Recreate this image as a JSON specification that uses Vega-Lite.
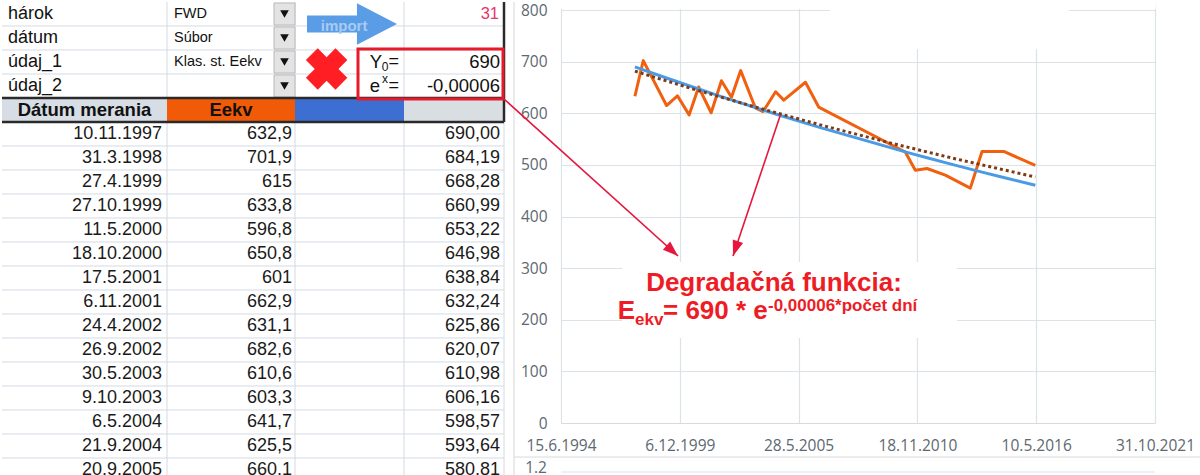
{
"$schema":"https://vega.github.io/schema/vega-lite/v6.json",
"background":"white",
"padding":0,
"spacing":49,
"bounds":"flush",
"config":{"view":{"stroke":null},"font":"Liberation Sans"},
"datasets":{
"top":[{"row":0,"label":"hárok","dd":"FWD"},{"row":1,"label":"dátum","dd":"Súbor"},{"row":2,"label":"údaj_1","dd":"Klas. st. Eekv"},{"row":3,"label":"údaj_2","dd":""}],
"tbl":[
{"row":5,"date":"10.11.1997","eekv":"632,9","fit":"690,00"},
{"row":6,"date":"31.3.1998","eekv":"701,9","fit":"684,19"},
{"row":7,"date":"27.4.1999","eekv":"615","fit":"668,28"},
{"row":8,"date":"27.10.1999","eekv":"633,8","fit":"660,99"},
{"row":9,"date":"11.5.2000","eekv":"596,8","fit":"653,22"},
{"row":10,"date":"18.10.2000","eekv":"650,8","fit":"646,98"},
{"row":11,"date":"17.5.2001","eekv":"601","fit":"638,84"},
{"row":12,"date":"6.11.2001","eekv":"662,9","fit":"632,24"},
{"row":13,"date":"24.4.2002","eekv":"631,1","fit":"625,86"},
{"row":14,"date":"26.9.2002","eekv":"682,6","fit":"620,07"},
{"row":15,"date":"30.5.2003","eekv":"610,6","fit":"610,98"},
{"row":16,"date":"9.10.2003","eekv":"603,3","fit":"606,16"},
{"row":17,"date":"6.5.2004","eekv":"641,7","fit":"598,57"},
{"row":18,"date":"21.9.2004","eekv":"625,5","fit":"593,64"},
{"row":19,"date":"20.9.2005","eekv":"660,1","fit":"580,81"}],
"lines":[
{"k":"l","col":0,"col2":4,"row":0.5,"row2":0.5},{"k":"l","col":0,"col2":4,"row":1.5,"row2":1.5},{"k":"l","col":0,"col2":4,"row":2.5,"row2":2.5},
{"k":"l","col":0,"col2":4,"row":5.5,"row2":5.5},{"k":"l","col":0,"col2":4,"row":6.5,"row2":6.5},{"k":"l","col":0,"col2":4,"row":7.5,"row2":7.5},
{"k":"l","col":0,"col2":4,"row":8.5,"row2":8.5},{"k":"l","col":0,"col2":4,"row":9.5,"row2":9.5},{"k":"l","col":0,"col2":4,"row":10.5,"row2":10.5},
{"k":"l","col":0,"col2":4,"row":11.5,"row2":11.5},{"k":"l","col":0,"col2":4,"row":12.5,"row2":12.5},{"k":"l","col":0,"col2":4,"row":13.5,"row2":13.5},
{"k":"l","col":0,"col2":4,"row":14.5,"row2":14.5},{"k":"l","col":0,"col2":4,"row":15.5,"row2":15.5},{"k":"l","col":0,"col2":4,"row":16.5,"row2":16.5},
{"k":"l","col":0,"col2":4,"row":17.5,"row2":17.5},{"k":"l","col":0,"col2":4,"row":18.5,"row2":18.5},
{"k":"l","col":1,"col2":1,"row":-0.5,"row2":19.3},{"k":"l","col":2,"col2":2,"row":-0.5,"row2":19.3},{"k":"l","col":3,"col2":3,"row":-0.5,"row2":19.3},{"k":"l","col":4,"col2":4,"row":-0.5,"row2":19.3},
{"k":"d","col":0,"col2":4,"row":3.5,"row2":3.5},{"k":"d","col":0,"col2":4,"row":4.5,"row2":4.5},{"k":"d","col":4,"col2":4,"row":-0.5,"row2":4.5},
{"k":"g","col":4.1,"col2":4.1,"row":-0.5,"row2":19.3}],
"cells":[
{"p":"hA","col":0,"col2":1,"row":3.5,"row2":4.5},{"p":"hB","col":1,"col2":2,"row":3.5,"row2":4.5},{"p":"hC","col":2,"col2":3,"row":3.5,"row2":4.5},{"p":"hD","col":3,"col2":4,"row":3.5,"row2":4.5},
{"p":"btn","col":1.836,"col2":2,"row":-0.46,"row2":0.46},{"p":"btn","col":1.836,"col2":2,"row":0.54,"row2":1.46},{"p":"btn","col":1.836,"col2":2,"row":1.54,"row2":2.46},{"p":"btn","col":1.836,"col2":2,"row":2.54,"row2":3.46},
{"p":"box","col":2.578,"col2":3.99,"row":1.46,"row2":3.54}],
"icons":[{"p":"arrow","col":2.523,"row":0.417},{"p":"x","col":2.29,"row":2.29},{"p":"imp","col":2.45,"row":0.5,"t":"import"}],
"hdr":[{"col":0.5,"row":4,"t":"Dátum merania"},{"col":1.5,"row":4,"t":"Eekv"}],
"params":[{"k":"n","col":4,"row":0,"t":"31"},{"k":"v","col":4,"row":2,"t":"690"},{"k":"v","col":4,"row":3,"t":"-0,00006"}],
"sym":[{"k":"Y","col":3,"row":2,"t":"Y"},{"k":"sub","col":3,"row":2,"t":"0"},{"k":"eq","col":3,"row":2,"t":"="},{"k":"e","col":3,"row":3,"t":"e"},{"k":"sup","col":3,"row":3,"t":"x"},{"k":"eq","col":3,"row":3,"t":"="}],
"series":[
{"s":"Eekv","date":"1997-11-10","v":632.9},{"s":"Eekv","date":"1998-03-31","v":701.9},{"s":"Eekv","date":"1999-04-27","v":615},{"s":"Eekv","date":"1999-10-27","v":633.8},
{"s":"Eekv","date":"2000-05-11","v":596.8},{"s":"Eekv","date":"2000-10-18","v":650.8},{"s":"Eekv","date":"2001-05-17","v":601},{"s":"Eekv","date":"2001-11-06","v":662.9},
{"s":"Eekv","date":"2002-04-24","v":631.1},{"s":"Eekv","date":"2002-09-26","v":682.6},{"s":"Eekv","date":"2003-05-30","v":610.6},{"s":"Eekv","date":"2003-10-09","v":603.3},
{"s":"Eekv","date":"2004-05-06","v":641.7},{"s":"Eekv","date":"2004-09-21","v":625.5},{"s":"Eekv","date":"2005-09-20","v":660.1},{"s":"Eekv","date":"2006-05-01","v":612},
{"s":"Eekv","date":"2010-04-28","v":525},{"s":"Eekv","date":"2010-10-14","v":489.5},{"s":"Eekv","date":"2011-04-29","v":493},{"s":"Eekv","date":"2012-03-02","v":480},
{"s":"Eekv","date":"2013-04-27","v":455},{"s":"Eekv","date":"2013-11-10","v":526},{"s":"Eekv","date":"2014-11-10","v":526},{"s":"Eekv","date":"2016-04-25","v":499},
{"s":"fit","date":"1997-11-10","v":690.0},{"s":"fit","date":"1998-03-31","v":684.19},{"s":"fit","date":"1999-04-27","v":668.28},{"s":"fit","date":"1999-10-27","v":660.99},
{"s":"fit","date":"2000-05-11","v":653.22},{"s":"fit","date":"2000-10-18","v":646.98},{"s":"fit","date":"2001-05-17","v":638.84},{"s":"fit","date":"2001-11-06","v":632.24},
{"s":"fit","date":"2002-04-24","v":625.86},{"s":"fit","date":"2002-09-26","v":620.07},{"s":"fit","date":"2003-05-30","v":610.98},{"s":"fit","date":"2003-10-09","v":606.16},
{"s":"fit","date":"2004-05-06","v":598.57},{"s":"fit","date":"2004-09-21","v":593.64},{"s":"fit","date":"2005-09-20","v":580.81},{"s":"fit","date":"2006-05-01","v":573.1},
{"s":"fit","date":"2010-04-28","v":525.1},{"s":"fit","date":"2010-10-14","v":519.8},{"s":"fit","date":"2011-04-29","v":513.7},{"s":"fit","date":"2012-03-02","v":504.3},
{"s":"fit","date":"2013-04-27","v":491.7},{"s":"fit","date":"2013-11-10","v":485.9},{"s":"fit","date":"2014-11-10","v":475.4},{"s":"fit","date":"2016-04-25","v":460.5},
{"s":"trend","date":"1997-11-10","v":681.5},{"s":"trend","date":"2000-06-15","v":648.0},{"s":"trend","date":"2003-06-15","v":611.5},{"s":"trend","date":"2006-06-15","v":576.9},
{"s":"trend","date":"2009-06-15","v":544.3},{"s":"trend","date":"2012-06-15","v":513.5},{"s":"trend","date":"2016-04-25","v":476.5}],
"boxes":[{"k":"strip","date":"1994-06-01","date2":"2021-11-14","v":815.5,"v2":802},{"k":"top","date":"2006-11-08","date2":"2017-11-13","v":815.5,"v2":724.5},{"k":"note","date":"1997-04-08","date2":"2012-09-15","v":312,"v2":164.6}],
"arrows":[{"k":"a1","date":"1991-10-29","v":627.6,"date2":"1999-11-06","v2":323.5},{"k":"a2","date":"2004-07-24","v":596,"date2":"2002-05-20","v2":323.5}],
"heads":[{"k":"a1","date":"1999-11-06","v":323.5},{"k":"a2","date":"2002-05-20","v":323.5}],
"notes":[{"k":"l1","date":"2004-04-09","v":256,"t":"Degradačná funkcia:"},{"k":"E","date":"1999-02-26","v":202,"t":"E"},{"k":"sub","date":"1999-02-26","v":202,"t":"ekv"},{"k":"main","date":"1999-02-26","v":202,"t":"= 690 * e"},{"k":"sup","date":"1999-02-26","v":202,"t":"-0,00006*počet dní"}],
"misc":[{"k":"border","date":"1992-04-15","date2":"2023-11-26","v":-65.9,"v2":-65.9},{"k":"grid2","date":"1994-06-15","date2":"2021-10-31","v":-94.9,"v2":-94.9}],
"misclab":[{"date":"1993-10-22","v":-86.5,"t":"1.2"}]
},
"hconcat":[
{
"width":510,"height":475,
"encoding":{
"y":{"field":"row","type":"quantitative","scale":{"domain":[-0.5,19.2917],"reverse":true,"nice":false,"zero":false},"axis":null}
},
"layer":[
{"data":{"name":"lines"},"transform":[{"filter":"datum.k=='l'"}],"mark":{"type":"rule","color":"#d3dae2","strokeWidth":1},"encoding":{"x":{"field":"col","type":"quantitative","scale":{"domain":[0,1,2,3,4],"range":[0,165,293,402,502]},"axis":null},"x2":{"field":"col2"},"y2":{"field":"row2"}}},
{"data":{"name":"cells"},"transform":[{"filter":"datum.p[0]=='h'"}],"mark":{"type":"rect"},"encoding":{"x":{"field":"col","type":"quantitative","scale":{"domain":[0,1,2,3,4],"range":[0,165,293,402,502]},"axis":null},"x2":{"field":"col2"},"y2":{"field":"row2"},"color":{"field":"p","type":"nominal","scale":{"domain":["hA","hB","hC","hD"],"range":["#d7dde4","#f15a06","#3c6fd1","#d9dee3"]},"legend":null}}},
{"data":{"name":"cells"},"transform":[{"filter":"datum.p=='btn'"}],"mark":{"type":"rect","fill":"#e3e3e3","stroke":"#b8b8b8","strokeWidth":1},"encoding":{"x":{"field":"col","type":"quantitative","scale":{"domain":[0,1,2,3,4],"range":[0,165,293,402,502]},"axis":null},"x2":{"field":"col2"},"y2":{"field":"row2"}}},
{"data":{"name":"lines"},"transform":[{"filter":"datum.k=='d'"}],"mark":{"type":"rule","color":"#2a2a2a","strokeWidth":2.5},"encoding":{"x":{"field":"col","type":"quantitative","scale":{"domain":[0,1,2,3,4],"range":[0,165,293,402,502]},"axis":null},"x2":{"field":"col2"},"y2":{"field":"row2"}}},
{"data":{"name":"lines"},"transform":[{"filter":"datum.k=='g'"}],"mark":{"type":"rule","color":"#d6d6d6","strokeWidth":1},"encoding":{"x":{"field":"col","type":"quantitative","scale":{"domain":[0,1,2,3,4],"range":[0,165,293,402,502]},"axis":null},"x2":{"field":"col2"},"y2":{"field":"row2"}}},
{"data":{"name":"top"},"mark":{"type":"point","shape":"triangle-down","filled":true,"color":"#111111","size":75,"opacity":1},"encoding":{"x":{"datum":1.918,"type":"quantitative","scale":{"domain":[0,1,2,3,4],"range":[0,165,293,402,502]},"axis":null}}},
{"data":{"name":"icons"},"transform":[{"filter":"datum.p=='arrow'"}],"mark":{"type":"point","shape":"M-1,-0.19L0.11,-0.19L0.11,-0.46L1,0L0.11,0.46L0.11,0.19L-1,0.19Z","filled":true,"color":"#5b9ce6","size":8100,"opacity":1},"encoding":{"x":{"field":"col","type":"quantitative","scale":{"domain":[0,1,2,3,4],"range":[0,165,293,402,502]},"axis":null}}},
{"data":{"name":"icons"},"transform":[{"filter":"datum.p=='imp'"}],"mark":{"type":"text","fontSize":15,"fontWeight":"bold","color":"#a6cbf3","align":"center","baseline":"middle"},"encoding":{"x":{"field":"col","type":"quantitative","scale":{"domain":[0,1,2,3,4],"range":[0,165,293,402,502]},"axis":null},"text":{"field":"t"}}},
{"data":{"name":"icons"},"transform":[{"filter":"datum.p=='x'"}],"mark":{"type":"point","shape":"cross","angle":45,"filled":true,"color":"#fe1e24","size":1750,"opacity":1},"encoding":{"x":{"field":"col","type":"quantitative","scale":{"domain":[0,1,2,3,4],"range":[0,165,293,402,502]},"axis":null}}},
{"data":{"name":"cells"},"transform":[{"filter":"datum.p=='box'"}],"mark":{"type":"rect","filled":false,"stroke":"#e51b2b","strokeWidth":3},"encoding":{"x":{"field":"col","type":"quantitative","scale":{"domain":[0,1,2,3,4],"range":[0,165,293,402,502]},"axis":null},"x2":{"field":"col2"},"y2":{"field":"row2"}}},
{"data":{"name":"top"},"mark":{"type":"text","align":"left","baseline":"middle","dx":6,"fontSize":18,"color":"#111111"},"encoding":{"x":{"datum":0,"type":"quantitative","scale":{"domain":[0,1,2,3,4],"range":[0,165,293,402,502]},"axis":null},"text":{"field":"label"}}},
{"data":{"name":"top"},"mark":{"type":"text","align":"left","baseline":"middle","dx":7,"fontSize":14.5,"color":"#111111"},"encoding":{"x":{"datum":1,"type":"quantitative","scale":{"domain":[0,1,2,3,4],"range":[0,165,293,402,502]},"axis":null},"text":{"field":"dd"}}},
{"data":{"name":"hdr"},"mark":{"type":"text","align":"center","baseline":"middle","fontSize":18.5,"fontWeight":"bold","color":"#111111"},"encoding":{"x":{"field":"col","type":"quantitative","scale":{"domain":[0,1,2,3,4],"range":[0,165,293,402,502]},"axis":null},"text":{"field":"t"}}},
{"data":{"name":"tbl"},"mark":{"type":"text","align":"right","baseline":"middle","dx":-5,"fontSize":18,"color":"#1a1a1a"},"encoding":{"x":{"datum":1,"type":"quantitative","scale":{"domain":[0,1,2,3,4],"range":[0,165,293,402,502]},"axis":null},"text":{"field":"date"}}},
{"data":{"name":"tbl"},"mark":{"type":"text","align":"right","baseline":"middle","dx":-3,"fontSize":18,"color":"#1a1a1a"},"encoding":{"x":{"datum":2,"type":"quantitative","scale":{"domain":[0,1,2,3,4],"range":[0,165,293,402,502]},"axis":null},"text":{"field":"eekv"}}},
{"data":{"name":"tbl"},"mark":{"type":"text","align":"right","baseline":"middle","dx":-4,"fontSize":18,"color":"#1a1a1a"},"encoding":{"x":{"datum":4,"type":"quantitative","scale":{"domain":[0,1,2,3,4],"range":[0,165,293,402,502]},"axis":null},"text":{"field":"fit"}}},
{"data":{"name":"params"},"transform":[{"filter":"datum.k=='n'"}],"mark":{"type":"text","align":"right","baseline":"middle","dx":-5,"fontSize":16.5,"color":"#e8336e"},"encoding":{"x":{"field":"col","type":"quantitative","scale":{"domain":[0,1,2,3,4],"range":[0,165,293,402,502]},"axis":null},"text":{"field":"t"}}},
{"data":{"name":"params"},"transform":[{"filter":"datum.k=='v'"}],"mark":{"type":"text","align":"right","baseline":"middle","dx":-4,"fontSize":18.5,"color":"#111111"},"encoding":{"x":{"field":"col","type":"quantitative","scale":{"domain":[0,1,2,3,4],"range":[0,165,293,402,502]},"axis":null},"text":{"field":"t"}}},
{"data":{"name":"sym"},"transform":[{"filter":"datum.k=='eq'"}],"mark":{"type":"text","align":"right","baseline":"middle","dx":-5,"fontSize":18,"color":"#111111"},"encoding":{"x":{"field":"col","type":"quantitative","scale":{"domain":[0,1,2,3,4],"range":[0,165,293,402,502]},"axis":null},"text":{"field":"t"}}},
{"data":{"name":"sym"},"transform":[{"filter":"datum.k=='Y'"}],"mark":{"type":"text","align":"right","baseline":"middle","dx":-22,"fontSize":18.5,"color":"#111111"},"encoding":{"x":{"field":"col","type":"quantitative","scale":{"domain":[0,1,2,3,4],"range":[0,165,293,402,502]},"axis":null},"text":{"field":"t"}}},
{"data":{"name":"sym"},"transform":[{"filter":"datum.k=='sub'"}],"mark":{"type":"text","align":"right","baseline":"middle","dx":-15.5,"dy":5,"fontSize":12,"color":"#111111"},"encoding":{"x":{"field":"col","type":"quantitative","scale":{"domain":[0,1,2,3,4],"range":[0,165,293,402,502]},"axis":null},"text":{"field":"t"}}},
{"data":{"name":"sym"},"transform":[{"filter":"datum.k=='e'"}],"mark":{"type":"text","align":"right","baseline":"middle","dx":-24,"fontSize":18.5,"color":"#111111"},"encoding":{"x":{"field":"col","type":"quantitative","scale":{"domain":[0,1,2,3,4],"range":[0,165,293,402,502]},"axis":null},"text":{"field":"t"}}},
{"data":{"name":"sym"},"transform":[{"filter":"datum.k=='sup'"}],"mark":{"type":"text","align":"right","baseline":"middle","dx":-16,"dy":-7,"fontSize":12,"color":"#111111"},"encoding":{"x":{"field":"col","type":"quantitative","scale":{"domain":[0,1,2,3,4],"range":[0,165,293,402,502]},"axis":null},"text":{"field":"t"}}}
]
},
{
"width":594,"height":421,
"encoding":{
"x":{"field":"date","type":"temporal","scale":{"type":"utc","domain":[{"year":1994,"month":6,"date":15,"utc":true},{"year":2021,"month":10,"date":31,"utc":true}]},
"axis":{"values":[{"year":1994,"month":6,"date":15,"utc":true},{"year":1999,"month":12,"date":6,"utc":true},{"year":2005,"month":5,"date":28,"utc":true},{"year":2010,"month":11,"date":18,"utc":true},{"year":2016,"month":5,"date":10,"utc":true},{"year":2021,"month":10,"date":31,"utc":true}],
"format":"%-d.%-m.%Y","title":null,"grid":true,"gridColor":"#dce3e8","gridWidth":1.2,"ticks":false,"domain":true,"domainColor":"#d5dbe0","domainWidth":1.2,"labelFont":"Open Sans","labelFontSize":15.5,"labelColor":"#5d6870","labelPadding":15,"labelOverlap":false,"labelFlush":false,"labelBound":false}},
"y":{"field":"v","type":"quantitative","scale":{"domain":[0,815.5],"nice":false,"zero":false},
"axis":{"values":[0,100,200,300,400,500,600,700,800],"title":null,"grid":true,"gridColor":"#dce3e8","gridWidth":1.2,"ticks":false,"domain":false,"labelFont":"Open Sans","labelFontSize":15.5,"labelColor":"#5d6870","labelPadding":14}}
},
"layer":[
{"data":{"name":"boxes"},"mark":{"type":"rect","fill":"white"},"encoding":{"x2":{"field":"date2"},"y2":{"field":"v2"}}},
{"data":{"name":"series"},"transform":[{"filter":"datum.s=='Eekv'"}],"mark":{"type":"line","color":"#f0600f","strokeWidth":3,"strokeJoin":"round"}},
{"data":{"name":"series"},"transform":[{"filter":"datum.s=='fit'"}],"mark":{"type":"line","color":"#4a9ae6","strokeWidth":3}},
{"data":{"name":"series"},"transform":[{"filter":"datum.s=='trend'"}],"mark":{"type":"line","color":"#7e3a12","strokeWidth":3,"strokeDash":[3,3]}},
{"data":{"name":"arrows"},"mark":{"type":"rule","color":"#e5173f","strokeWidth":1.6},"encoding":{"x2":{"field":"date2"},"y2":{"field":"v2"}}},
{"data":{"name":"heads"},"transform":[{"filter":"datum.k=='a1'"}],"mark":{"type":"point","shape":"M0,0L0.6,1.7L-0.6,1.7Z","angle":132,"filled":true,"color":"#e5173f","size":330,"opacity":1}},
{"data":{"name":"heads"},"transform":[{"filter":"datum.k=='a2'"}],"mark":{"type":"point","shape":"M0,0L0.6,1.7L-0.6,1.7Z","angle":198.6,"filled":true,"color":"#e5173f","size":330,"opacity":1}},
{"data":{"name":"notes"},"transform":[{"filter":"datum.k=='l1'"}],"mark":{"type":"text","align":"center","baseline":"alphabetic","fontSize":26,"fontWeight":"bold","color":"#ee1c25"},"encoding":{"text":{"field":"t"}}},
{"data":{"name":"notes"},"transform":[{"filter":"datum.k=='E'"}],"mark":{"type":"text","align":"right","baseline":"alphabetic","dx":-28,"fontSize":26,"fontWeight":"bold","color":"#ee1c25"},"encoding":{"text":{"field":"t"}}},
{"data":{"name":"notes"},"transform":[{"filter":"datum.k=='sub'"}],"mark":{"type":"text","align":"left","baseline":"alphabetic","dx":-28,"dy":6,"fontSize":17,"fontWeight":"bold","color":"#ee1c25"},"encoding":{"text":{"field":"t"}}},
{"data":{"name":"notes"},"transform":[{"filter":"datum.k=='main'"}],"mark":{"type":"text","align":"left","baseline":"alphabetic","fontSize":26,"fontWeight":"bold","color":"#ee1c25"},"encoding":{"text":{"field":"t"}}},
{"data":{"name":"notes"},"transform":[{"filter":"datum.k=='sup'"}],"mark":{"type":"text","align":"left","baseline":"alphabetic","dx":105,"dy":-8,"fontSize":17,"fontWeight":"bold","color":"#ee1c25"},"encoding":{"text":{"field":"t"}}},
{"data":{"name":"misc"},"transform":[{"filter":"datum.k=='border'"}],"mark":{"type":"rule","color":"#d9d9d9","strokeWidth":1},"encoding":{"x2":{"field":"date2"},"y2":{"field":"v2"}}},
{"data":{"name":"misc"},"transform":[{"filter":"datum.k=='grid2'"}],"mark":{"type":"rule","color":"#dce3e8","strokeWidth":1.2},"encoding":{"x2":{"field":"date2"},"y2":{"field":"v2"}}},
{"data":{"name":"misclab"},"mark":{"type":"text","align":"right","baseline":"middle","font":"Open Sans","fontSize":15.5,"color":"#5d6870"},"encoding":{"text":{"field":"t"}}}
]
}
]
}
